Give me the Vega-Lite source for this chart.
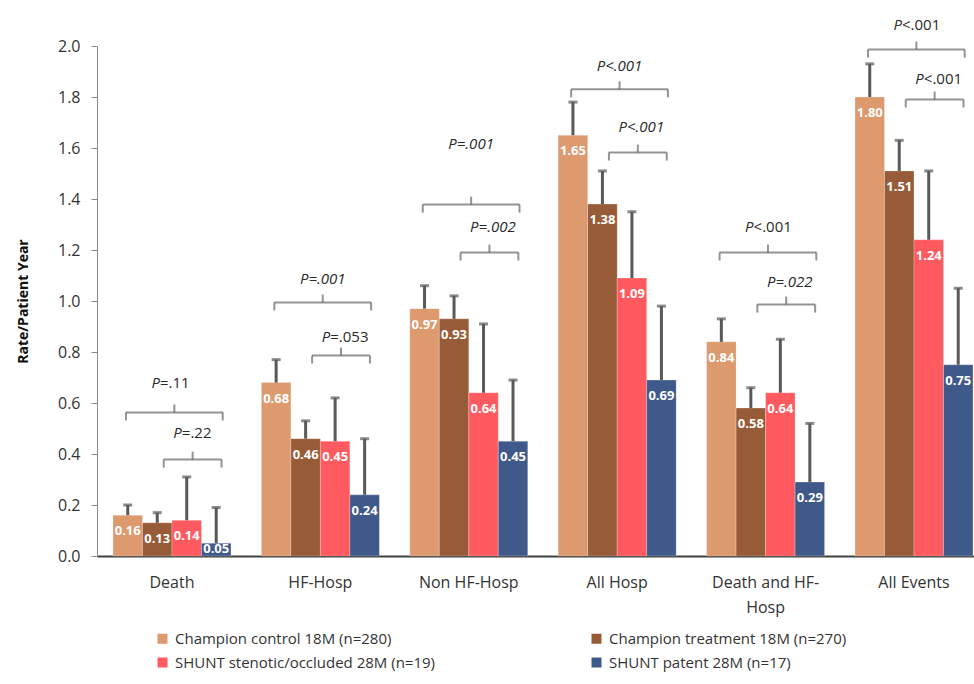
{
  "$schema": "https://vega.github.io/schema/vega-lite/v6.json",
  "width": 877,
  "height": 510,
  "autosize": "none",
  "padding": {"left": 97, "top": 46, "right": 0, "bottom": 128},
  "background": "white",
  "config": {
    "view": {"stroke": null},
    "font": "Open Sans",
    "text": {"font": "Open Sans"}
  },
  "datasets": {
    "bars": [
      {"cat": "Death", "series": "Champion control 18M (n=280)", "value": 0.16, "upper": 0.20},
      {"cat": "Death", "series": "Champion treatment 18M (n=270)", "value": 0.13, "upper": 0.17},
      {"cat": "Death", "series": "SHUNT stenotic/occluded 28M (n=19)", "value": 0.14, "upper": 0.31},
      {"cat": "Death", "series": "SHUNT patent 28M (n=17)", "value": 0.05, "upper": 0.19},
      {"cat": "HF-Hosp", "series": "Champion control 18M (n=280)", "value": 0.68, "upper": 0.77},
      {"cat": "HF-Hosp", "series": "Champion treatment 18M (n=270)", "value": 0.46, "upper": 0.53},
      {"cat": "HF-Hosp", "series": "SHUNT stenotic/occluded 28M (n=19)", "value": 0.45, "upper": 0.62},
      {"cat": "HF-Hosp", "series": "SHUNT patent 28M (n=17)", "value": 0.24, "upper": 0.46},
      {"cat": "Non HF-Hosp", "series": "Champion control 18M (n=280)", "value": 0.97, "upper": 1.06},
      {"cat": "Non HF-Hosp", "series": "Champion treatment 18M (n=270)", "value": 0.93, "upper": 1.02},
      {"cat": "Non HF-Hosp", "series": "SHUNT stenotic/occluded 28M (n=19)", "value": 0.64, "upper": 0.91},
      {"cat": "Non HF-Hosp", "series": "SHUNT patent 28M (n=17)", "value": 0.45, "upper": 0.69},
      {"cat": "All Hosp", "series": "Champion control 18M (n=280)", "value": 1.65, "upper": 1.78},
      {"cat": "All Hosp", "series": "Champion treatment 18M (n=270)", "value": 1.38, "upper": 1.51},
      {"cat": "All Hosp", "series": "SHUNT stenotic/occluded 28M (n=19)", "value": 1.09, "upper": 1.35},
      {"cat": "All Hosp", "series": "SHUNT patent 28M (n=17)", "value": 0.69, "upper": 0.98},
      {"cat": "Death and HF-Hosp", "series": "Champion control 18M (n=280)", "value": 0.84, "upper": 0.93},
      {"cat": "Death and HF-Hosp", "series": "Champion treatment 18M (n=270)", "value": 0.58, "upper": 0.66},
      {"cat": "Death and HF-Hosp", "series": "SHUNT stenotic/occluded 28M (n=19)", "value": 0.64, "upper": 0.85},
      {"cat": "Death and HF-Hosp", "series": "SHUNT patent 28M (n=17)", "value": 0.29, "upper": 0.52},
      {"cat": "All Events", "series": "Champion control 18M (n=280)", "value": 1.80, "upper": 1.93},
      {"cat": "All Events", "series": "Champion treatment 18M (n=270)", "value": 1.51, "upper": 1.63},
      {"cat": "All Events", "series": "SHUNT stenotic/occluded 28M (n=19)", "value": 1.24, "upper": 1.51},
      {"cat": "All Events", "series": "SHUNT patent 28M (n=17)", "value": 0.75, "upper": 1.05}
    ],
    "brackets": [
      {"cat": "Death", "level": "top", "y": 0.563, "ty": 0.68, "rest": "=.11", "ital": false},
      {"cat": "Death", "level": "low", "y": 0.378, "ty": 0.484, "rest": "=.22", "ital": false},
      {"cat": "HF-Hosp", "level": "top", "y": 0.994, "ty": 1.088, "rest": "=.001", "ital": true},
      {"cat": "HF-Hosp", "level": "low", "y": 0.786, "ty": 0.86, "rest": "=.053", "ital": false},
      {"cat": "Non HF-Hosp", "level": "top", "y": 1.378, "ty": 1.614, "rest": "=.001", "ital": true},
      {"cat": "Non HF-Hosp", "level": "low", "y": 1.19, "ty": 1.292, "rest": "=.002", "ital": true},
      {"cat": "All Hosp", "level": "top", "y": 1.83, "ty": 1.92, "rest": "<.001", "ital": true},
      {"cat": "All Hosp", "level": "low", "y": 1.582, "ty": 1.684, "rest": "<.001", "ital": true},
      {"cat": "Death and HF-Hosp", "level": "top", "y": 1.19, "ty": 1.292, "rest": "<.001", "ital": false},
      {"cat": "Death and HF-Hosp", "level": "low", "y": 0.986, "ty": 1.076, "rest": "=.022", "ital": true},
      {"cat": "All Events", "level": "top", "y": 1.986, "ty": 2.084, "rest": "<.001", "ital": false},
      {"cat": "All Events", "level": "low", "y": 1.79, "ty": 1.869, "rest": "<.001", "ital": false}
    ]
  },
  "layer": [
    {
      "data": {"name": "bars"},
      "mark": {"type": "bar", "stroke": "white", "strokeWidth": 0.6, "strokeOpacity": 0.4},
      "encoding": {
        "x": {
          "field": "cat", "type": "nominal",
          "sort": ["Death", "HF-Hosp", "Non HF-Hosp", "All Hosp", "Death and HF-Hosp", "All Events"],
          "scale": {"paddingInner": 0.205, "paddingOuter": 0.0573, "align": 0.94},
          "axis": {
            "title": null, "labelAngle": 0, "ticks": false,
            "domainColor": "#404040", "domainWidth": 2,
            "labelFontSize": 16, "labelColor": "#333333", "labelPadding": 18,
            "labelFont": "Open Sans", "labelLineHeight": 25,
            "labelExpr": "datum.value == 'Death and HF-Hosp' ? ['Death and HF-', 'Hosp'] : datum.value"
          }
        },
        "xOffset": {
          "field": "series", "type": "nominal",
          "sort": ["Champion control 18M (n=280)", "Champion treatment 18M (n=270)", "SHUNT stenotic/occluded 28M (n=19)", "SHUNT patent 28M (n=17)"],
          "scale": {"paddingInner": 0, "paddingOuter": 0}
        },
        "y": {
          "field": "value", "type": "quantitative",
          "scale": {"domain": [0, 2], "nice": false, "zero": true},
          "axis": {
            "values": [0, 0.2, 0.4, 0.6, 0.8, 1.0, 1.2, 1.4, 1.6, 1.8, 2.0],
            "format": ".1f", "grid": false,
            "domainColor": "#8a8a8a", "tickColor": "#8a8a8a", "tickSize": 6,
            "labelFontSize": 16, "labelColor": "#333333", "labelPadding": 11, "labelFont": "Open Sans",
            "title": "Rate/Patient Year", "titleFontSize": 14, "titleFontWeight": "bold",
            "titleColor": "#111111", "titlePadding": 27, "titleFont": "Open Sans"
          }
        },
        "color": {
          "field": "series", "type": "nominal",
          "sort": ["Champion control 18M (n=280)", "Champion treatment 18M (n=270)", "SHUNT stenotic/occluded 28M (n=19)", "SHUNT patent 28M (n=17)"],
          "scale": {
            "domain": ["Champion control 18M (n=280)", "Champion treatment 18M (n=270)", "SHUNT stenotic/occluded 28M (n=19)", "SHUNT patent 28M (n=17)"],
            "range": ["#DC9A6E", "#985B37", "#FF5A5F", "#3F5A8A"]
          },
          "legend": {
            "title": null, "orient": "none", "legendX": 58, "legendY": 585,
            "direction": "horizontal", "columns": 2, "columnPadding": 153, "rowPadding": 8,
            "symbolType": "square", "symbolSize": 100, "symbolStrokeWidth": 0,
            "labelFontSize": 15, "labelColor": "#333333", "labelFont": "Open Sans", "labelLimit": 400,
            "labelOffset": 5
          }
        }
      }
    },
    {
      "data": {"name": "bars"},
      "mark": {"type": "rule", "color": "#595959", "strokeWidth": 3},
      "encoding": {
        "x": {"field": "cat", "type": "nominal", "sort": ["Death", "HF-Hosp", "Non HF-Hosp", "All Hosp", "Death and HF-Hosp", "All Events"]},
        "xOffset": {"field": "series", "type": "nominal", "sort": ["Champion control 18M (n=280)", "Champion treatment 18M (n=270)", "SHUNT stenotic/occluded 28M (n=19)", "SHUNT patent 28M (n=17)"]},
        "y": {"field": "value", "type": "quantitative"},
        "y2": {"field": "upper"}
      }
    },
    {
      "data": {"name": "bars"},
      "mark": {"type": "tick", "orient": "horizontal", "color": "#595959", "size": 9, "thickness": 3},
      "encoding": {
        "x": {"field": "cat", "type": "nominal", "sort": ["Death", "HF-Hosp", "Non HF-Hosp", "All Hosp", "Death and HF-Hosp", "All Events"]},
        "xOffset": {"field": "series", "type": "nominal", "sort": ["Champion control 18M (n=280)", "Champion treatment 18M (n=270)", "SHUNT stenotic/occluded 28M (n=19)", "SHUNT patent 28M (n=17)"]},
        "y": {"field": "upper", "type": "quantitative"}
      }
    },
    {
      "data": {"name": "bars"},
      "transform": [{"filter": "datum.value >= 0.1"}],
      "mark": {"type": "text", "color": "white", "fontWeight": "bold", "fontSize": 13, "dy": 16, "font": "Open Sans"},
      "encoding": {
        "x": {"field": "cat", "type": "nominal", "sort": ["Death", "HF-Hosp", "Non HF-Hosp", "All Hosp", "Death and HF-Hosp", "All Events"]},
        "xOffset": {"field": "series", "type": "nominal", "sort": ["Champion control 18M (n=280)", "Champion treatment 18M (n=270)", "SHUNT stenotic/occluded 28M (n=19)", "SHUNT patent 28M (n=17)"]},
        "y": {"field": "value", "type": "quantitative"},
        "text": {"field": "value", "type": "quantitative", "format": ".2f"}
      }
    },
    {
      "data": {"name": "bars"},
      "transform": [{"filter": "datum.value < 0.1"}],
      "mark": {"type": "text", "color": "white", "fontWeight": "bold", "fontSize": 13, "dy": 6, "font": "Open Sans"},
      "encoding": {
        "x": {"field": "cat", "type": "nominal", "sort": ["Death", "HF-Hosp", "Non HF-Hosp", "All Hosp", "Death and HF-Hosp", "All Events"]},
        "xOffset": {"field": "series", "type": "nominal", "sort": ["Champion control 18M (n=280)", "Champion treatment 18M (n=270)", "SHUNT stenotic/occluded 28M (n=19)", "SHUNT patent 28M (n=17)"]},
        "y": {"field": "value", "type": "quantitative"},
        "text": {"field": "value", "type": "quantitative", "format": ".2f"}
      }
    },
    {
      "data": {"name": "brackets"},
      "transform": [{"filter": "datum.level == 'top'"}],
      "layer": [
        {
          "mark": {"type": "tick", "orient": "horizontal", "size": 97, "thickness": 2, "color": "#666666", "xOffset": 2.4},
          "encoding": {"x": {"field": "cat", "type": "nominal", "sort": ["Death", "HF-Hosp", "Non HF-Hosp", "All Hosp", "Death and HF-Hosp", "All Events"]}, "y": {"field": "y", "type": "quantitative"}}
        },
        {
          "mark": {"type": "tick", "orient": "vertical", "size": 8, "thickness": 2, "color": "#666666", "yOffset": 4},
          "encoding": {"x": {"field": "cat", "type": "nominal", "bandPosition": 0.11, "sort": ["Death", "HF-Hosp", "Non HF-Hosp", "All Hosp", "Death and HF-Hosp", "All Events"]}, "y": {"field": "y", "type": "quantitative"}}
        },
        {
          "mark": {"type": "tick", "orient": "vertical", "size": 8, "thickness": 2, "color": "#666666", "yOffset": 4},
          "encoding": {"x": {"field": "cat", "type": "nominal", "bandPosition": 0.93, "sort": ["Death", "HF-Hosp", "Non HF-Hosp", "All Hosp", "Death and HF-Hosp", "All Events"]}, "y": {"field": "y", "type": "quantitative"}}
        },
        {
          "mark": {"type": "tick", "orient": "vertical", "size": 8, "thickness": 2, "color": "#666666", "yOffset": -4},
          "encoding": {"x": {"field": "cat", "type": "nominal", "bandPosition": 0.52, "sort": ["Death", "HF-Hosp", "Non HF-Hosp", "All Hosp", "Death and HF-Hosp", "All Events"]}, "y": {"field": "y", "type": "quantitative"}}
        },
        {
          "mark": {"type": "text", "fontStyle": "italic", "fontSize": 15, "color": "#2a2a2a", "align": "right", "dx": -12, "baseline": "middle"},
          "encoding": {"x": {"field": "cat", "type": "nominal", "bandPosition": 0.5, "sort": ["Death", "HF-Hosp", "Non HF-Hosp", "All Hosp", "Death and HF-Hosp", "All Events"]}, "y": {"field": "ty", "type": "quantitative"}, "text": {"value": "P"}}
        },
        {
          "transform": [{"filter": "datum.ital"}],
          "mark": {"type": "text", "fontStyle": "italic", "fontSize": 15, "color": "#2a2a2a", "align": "left", "dx": -12, "baseline": "middle"},
          "encoding": {"x": {"field": "cat", "type": "nominal", "bandPosition": 0.5, "sort": ["Death", "HF-Hosp", "Non HF-Hosp", "All Hosp", "Death and HF-Hosp", "All Events"]}, "y": {"field": "ty", "type": "quantitative"}, "text": {"field": "rest"}}
        },
        {
          "transform": [{"filter": "!datum.ital"}],
          "mark": {"type": "text", "fontStyle": "normal", "fontSize": 15, "color": "#2a2a2a", "align": "left", "dx": -12, "baseline": "middle"},
          "encoding": {"x": {"field": "cat", "type": "nominal", "bandPosition": 0.5, "sort": ["Death", "HF-Hosp", "Non HF-Hosp", "All Hosp", "Death and HF-Hosp", "All Events"]}, "y": {"field": "ty", "type": "quantitative"}, "text": {"field": "rest"}}
        }
      ]
    },
    {
      "data": {"name": "brackets"},
      "transform": [{"filter": "datum.level == 'low'"}],
      "layer": [
        {
          "mark": {"type": "tick", "orient": "horizontal", "size": 58, "thickness": 2, "color": "#666666", "xOffset": 20.6},
          "encoding": {"x": {"field": "cat", "type": "nominal", "sort": ["Death", "HF-Hosp", "Non HF-Hosp", "All Hosp", "Death and HF-Hosp", "All Events"]}, "y": {"field": "y", "type": "quantitative"}}
        },
        {
          "mark": {"type": "tick", "orient": "vertical", "size": 8, "thickness": 2, "color": "#666666", "yOffset": 4},
          "encoding": {"x": {"field": "cat", "type": "nominal", "bandPosition": 0.43, "sort": ["Death", "HF-Hosp", "Non HF-Hosp", "All Hosp", "Death and HF-Hosp", "All Events"]}, "y": {"field": "y", "type": "quantitative"}}
        },
        {
          "mark": {"type": "tick", "orient": "vertical", "size": 8, "thickness": 2, "color": "#666666", "yOffset": 4},
          "encoding": {"x": {"field": "cat", "type": "nominal", "bandPosition": 0.92, "sort": ["Death", "HF-Hosp", "Non HF-Hosp", "All Hosp", "Death and HF-Hosp", "All Events"]}, "y": {"field": "y", "type": "quantitative"}}
        },
        {
          "mark": {"type": "tick", "orient": "vertical", "size": 8, "thickness": 2, "color": "#666666", "yOffset": -4},
          "encoding": {"x": {"field": "cat", "type": "nominal", "bandPosition": 0.675, "sort": ["Death", "HF-Hosp", "Non HF-Hosp", "All Hosp", "Death and HF-Hosp", "All Events"]}, "y": {"field": "y", "type": "quantitative"}}
        },
        {
          "mark": {"type": "text", "fontStyle": "italic", "fontSize": 15, "color": "#2a2a2a", "align": "right", "dx": -12, "baseline": "middle"},
          "encoding": {"x": {"field": "cat", "type": "nominal", "bandPosition": 0.685, "sort": ["Death", "HF-Hosp", "Non HF-Hosp", "All Hosp", "Death and HF-Hosp", "All Events"]}, "y": {"field": "ty", "type": "quantitative"}, "text": {"value": "P"}}
        },
        {
          "transform": [{"filter": "datum.ital"}],
          "mark": {"type": "text", "fontStyle": "italic", "fontSize": 15, "color": "#2a2a2a", "align": "left", "dx": -12, "baseline": "middle"},
          "encoding": {"x": {"field": "cat", "type": "nominal", "bandPosition": 0.685, "sort": ["Death", "HF-Hosp", "Non HF-Hosp", "All Hosp", "Death and HF-Hosp", "All Events"]}, "y": {"field": "ty", "type": "quantitative"}, "text": {"field": "rest"}}
        },
        {
          "transform": [{"filter": "!datum.ital"}],
          "mark": {"type": "text", "fontStyle": "normal", "fontSize": 15, "color": "#2a2a2a", "align": "left", "dx": -12, "baseline": "middle"},
          "encoding": {"x": {"field": "cat", "type": "nominal", "bandPosition": 0.685, "sort": ["Death", "HF-Hosp", "Non HF-Hosp", "All Hosp", "Death and HF-Hosp", "All Events"]}, "y": {"field": "ty", "type": "quantitative"}, "text": {"field": "rest"}}
        }
      ]
    }
  ]
}
